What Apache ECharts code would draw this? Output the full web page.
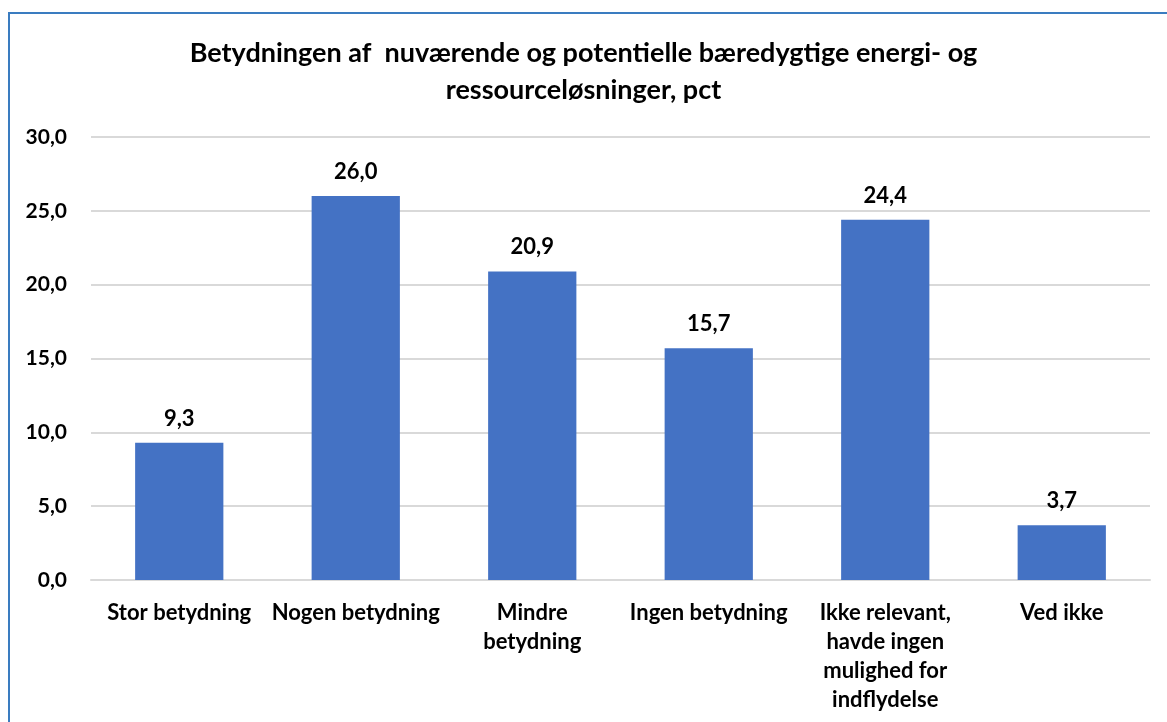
<!DOCTYPE html>
<html>
<head>
<meta charset="utf-8">
<script src="https://cdn.jsdelivr.net/npm/echarts@6/dist/echarts.min.js"></script>
<style>
  html, body { margin: 0; padding: 0; background: #fff; overflow: hidden; }
  #chart { position: absolute; left: 0; top: 0; width: 1167px; height: 722px; }
  #frame {
    position: absolute; left: 8px; top: 12px; width: 1200px; height: 760px;
    border-left: 2px solid #3a7cc0; border-top: 2px solid #3a7cc0;
    pointer-events: none;
  }
</style>
</head>
<body>
<div id="chart"></div>
<div id="frame"></div>
<script>
const categories = [
  'Stor betydning',
  'Nogen betydning',
  'Mindre\nbetydning',
  'Ingen betydning',
  'Ikke relevant,\nhavde ingen\nmulighed for\nindflydelse',
  'Ved ikke'
]
const values = [9.3, 26.0, 20.9, 15.7, 24.4, 3.7]
const titleText = 'Betydningen af  nuværende og potentielle bæredygtige energi- og\nressourceløsninger, pct'

const fontFamily = 'Lato, "Open Sans", sans-serif'
const comma = v => v.toFixed(1).replace('.', ',')

const chart = echarts.init(document.getElementById('chart'))
chart.setOption({
  animation: false,
  title: {
    text: titleText,
    left: 'center',
    top: 30,
    textStyle: {
      fontFamily: fontFamily,
      fontSize: 27,
      fontWeight: 'bold',
      color: '#000',
      lineHeight: 37
    }
  },
  grid: {
    left: 91,
    right: 17,
    top: 137,
    bottom: 142
  },
  xAxis: {
    type: 'category',
    data: categories,
    axisTick: { show: false },
    axisLine: { lineStyle: { color: '#d9d9d9', width: 2 } },
    axisLabel: {
      interval: 0,
      margin: 18,
      fontFamily: fontFamily,
      fontSize: 22,
      fontWeight: 'bold',
      color: '#000',
      lineHeight: 29
    }
  },
  yAxis: {
    type: 'value',
    min: 0,
    max: 30,
    interval: 5,
    axisLine: { show: false },
    axisTick: { show: false },
    splitLine: { lineStyle: { color: '#d9d9d9', width: 2 } },
    axisLabel: {
      margin: 24,
      fontFamily: fontFamily,
      fontSize: 21,
      fontWeight: 'bold',
      color: '#000',
      formatter: v => comma(v)
    }
  },
  series: [{
    type: 'bar',
    data: values,
    barWidth: '50%',
    itemStyle: { color: '#4472c4' },
    label: {
      show: true,
      position: 'top',
      distance: 13,
      fontFamily: fontFamily,
      fontSize: 22,
      fontWeight: 'bold',
      color: '#000',
      formatter: p => comma(p.value)
    }
  }]
})
</script>
</body>
</html>
